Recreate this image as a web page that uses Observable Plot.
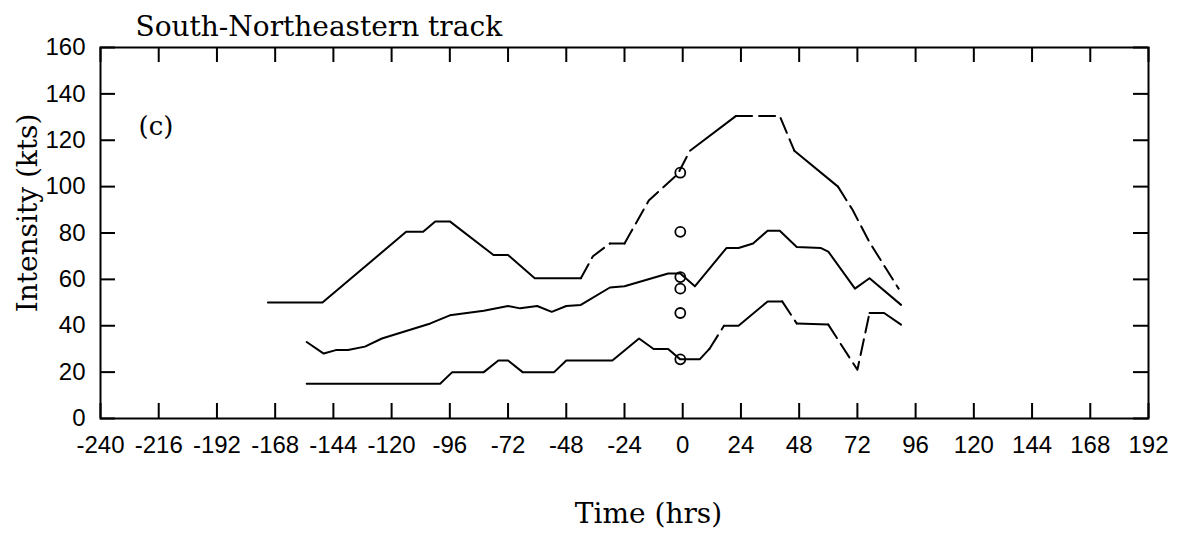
<!DOCTYPE html>
<html><head><meta charset="utf-8">
<script src="https://cdn.jsdelivr.net/npm/d3@7"></script>
<script src="https://cdn.jsdelivr.net/npm/@observablehq/plot@0.6"></script>
<style>
html,body{margin:0;padding:0;background:#fff;}
</style></head><body><div id="chart"></div>
<script>
// ---------- data ----------
const xTicks = [-240,-216,-192,-168,-144,-120,-96,-72,-48,-24,0,24,48,72,96,120,144,168,192];
const yTicks = [0,20,40,60,80,100,120,140,160];

const upperHours  = [-171,-148.5,-114,-107,-102,-96,-78,-72,-61,-42,-37,-30,-24,-14,-2,3,22,40,46,64,70,77,89];
const upperValues = [50,50,80.5,80.5,85,85,70.5,70.5,60.5,60.5,70,75.5,75.5,94,105.5,115.5,130.5,130.5,115.5,100,90,76,56];

const middleHours  = [-155,-148,-143,-138,-131,-124,-104,-96,-82,-72,-67,-60,-54,-48,-42,-30,-24,-6,-1,5,18,23,29,35,40,47,57,60,71,77,90];
const middleValues = [33,28,29.5,29.5,31,34.5,41,44.5,46.5,48.5,47.5,48.5,46,48.5,49,56.5,57,62.5,62.5,57,73.5,73.5,75.5,81,81,74,73.5,72,56,60.5,49];

const lowerHours  = [-155,-100,-95,-82,-76,-72,-66,-53,-48,-29,-18,-12,-6,-1,7,11,17,23,35,41,47,60,72,77,83,90];
const lowerValues = [15,15,20,20,25,25,20,20,25,25,34.5,30,30,25.5,25.5,30,40,40,50.5,50.5,41,40.5,21,45.5,45.5,40.5];

const circleHours  = [-1,-1,-1,-1,-1,-1];
const circleValues = [106,80.5,61,56,45.5,25.5];

const title = "South-Northeastern track";
const panelLabel = "(c)";
const xLabel = "Time (hrs)";
const yLabel = "Intensity (kts)";

// ---------- style (which segments are drawn dashed) ----------
const dashedUpper  = [9,10,12,13,14,16,17,19,20,21];
const dashedMiddle = [];
const dashedLower  = [15,19,21,22];

function runs(hours, values, dashed) {
  const pts = hours.map((h, i) => ({h, v: values[i]}));
  const out = [];
  let cur = null;
  for (let i = 0; i < pts.length - 1; i++) {
    const d = dashed.includes(i);
    if (!cur || cur.dashed !== d) { cur = {dashed: d, points: [pts[i]]}; out.push(cur); }
    cur.points.push(pts[i + 1]);
  }
  return out;
}

const W = 1179, H = 539, mL = 100, mR = 31, mT = 47, mB = 121;
const fw = W - mL - mR, fh = H - mT - mB;
const serif = "DejaVu Serif, serif";

const lineMarks = [];
for (const [h, v, d] of [[upperHours, upperValues, dashedUpper], [middleHours, middleValues, dashedMiddle], [lowerHours, lowerValues, dashedLower]]) {
  for (const r of runs(h, v, d)) {
    lineMarks.push(Plot.line(r.points, {
      x: "h", y: "v", stroke: "#000", strokeWidth: 2,
      strokeLinejoin: "round",
      strokeDasharray: r.dashed ? "16,7" : null
    }));
  }
}

const chart = Plot.plot({
  width: W, height: H,
  marginLeft: mL, marginRight: mR, marginTop: mT, marginBottom: mB,
  x: {domain: [-240, 192]},
  y: {domain: [0, 160]},
  style: {fontFamily: "Liberation Sans, Arial, sans-serif", fontSize: "24px", background: "#fff", color: "#000"},
  marks: [
    Plot.axisX(xTicks, {tickSize: 0, tickPadding: 17, tickFormat: d => String(d), label: null, fontSize: 24}),
    Plot.axisY(yTicks, {tickSize: 0, tickPadding: 15, tickFormat: d => String(d), label: null, fontSize: 24, dy: 0}),
    Plot.tickX(xTicks, {x: d => d, insetTop: fh - 15, strokeWidth: 2}),
    Plot.tickX(xTicks, {x: d => d, insetBottom: fh - 15, strokeWidth: 2}),
    Plot.tickY(yTicks, {y: d => d, insetRight: fw - 15, strokeWidth: 2}),
    Plot.tickY(yTicks, {y: d => d, insetLeft: fw - 15, strokeWidth: 2}),
    Plot.frame({stroke: "#000", strokeWidth: 2}),
    ...lineMarks,
    Plot.dot(circleHours.map((h, i) => ({h, v: circleValues[i]})), {x: "h", y: "v", r: 5, stroke: "#000", strokeWidth: 1.8, fill: "none"}),
    Plot.text([title], {text: d => d, frameAnchor: "top-left", dx: 35, dy: -12, textAnchor: "start", lineAnchor: "bottom", fontFamily: serif, fontSize: 28}),
    Plot.text([panelLabel], {text: d => d, frameAnchor: "top-left", dx: 38, dy: 87, textAnchor: "start", lineAnchor: "bottom", fontFamily: serif, fontSize: 26}),
    Plot.text([xLabel], {text: d => d, frameAnchor: "bottom", dx: 24, dy: 104, textAnchor: "middle", lineAnchor: "bottom", fontFamily: serif, fontSize: 28}),
    Plot.text([yLabel], {text: d => d, frameAnchor: "left", dx: -72, dy: -20, rotate: -90, textAnchor: "middle", lineAnchor: "middle", fontFamily: serif, fontSize: 28})
  ]
});
document.getElementById("chart").appendChild(chart);
</script>
</body></html>
